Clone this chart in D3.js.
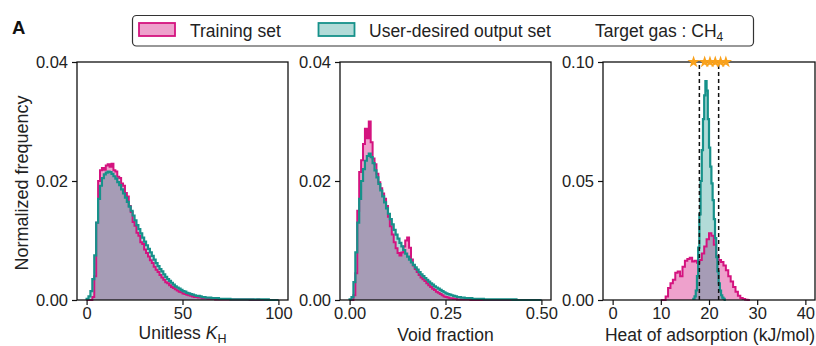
<!DOCTYPE html>
<html>
<head>
<meta charset="utf-8">
<script src="https://d3js.org/d3.v7.min.js"></script>
<style>
  body { margin: 0; background: #fff; }
  svg { font-family: "Liberation Sans", Arial, sans-serif; }
</style>
</head>
<body>
<svg id="chart" width="816" height="346"></svg>
<script>
// ---- data (normalized frequency per bin) ----
// panel 1: unitless K_H, bins of width 1 starting at 0
var khStart = 0, khWidth = 1;
var khTrain = [
  0, 0, 0, 0.0005, 0.0040, 0.0130, 0.0200, 0.0218, 0.0222, 0.0219,
  0.0226, 0.0228, 0.0224, 0.0229, 0.0218, 0.0216, 0.0207, 0.0205, 0.0196, 0.0192,
  0.0180, 0.0174, 0.0158, 0.0148, 0.0131, 0.0125, 0.0113, 0.0108, 0.0097, 0.0094,
  0.0085, 0.0079, 0.0073, 0.0067, 0.0062, 0.0056, 0.0051, 0.0047, 0.0042, 0.0038,
  0.0034, 0.0030, 0.0028, 0.0025, 0.0022, 0.0020, 0.0018, 0.0016, 0.0014, 0.0013,
  0.0011, 0.0010, 0.0009, 0.0008, 0.0007, 0.0006, 0.0005, 0.0005, 0.0004, 0.0004,
  0.0003, 0.0003, 0.0003, 0.0002, 0.0002, 0.0002, 0.0002, 0.0001, 0.0001, 0.0001,
  0.0001, 0.0001, 0.0001, 0.0001, 0.0001, 0.0001, 0.0001, 0.0001, 0.0001, 0.0001,
  0.0001, 0.0001, 0.0001, 0.0001, 0.0001, 0, 0.0001, 0, 0, 0.0001,
  0, 0, 0, 0, 0, 0, 0, 0, 0, 0
];
var khUser = [
  0.0002, 0.0006, 0.0015, 0.0035, 0.0075, 0.0130, 0.0170, 0.0192, 0.0205, 0.0211,
  0.0214, 0.0216, 0.0215, 0.0212, 0.0208, 0.0204, 0.0198, 0.0193, 0.0186, 0.0179,
  0.0172, 0.0165, 0.0157, 0.0150, 0.0142, 0.0134, 0.0126, 0.0119, 0.0112, 0.0105,
  0.0098, 0.0092, 0.0086, 0.0080, 0.0074, 0.0068, 0.0062, 0.0057, 0.0052, 0.0048,
  0.0043, 0.0039, 0.0035, 0.0032, 0.0029, 0.0026, 0.0023, 0.0021, 0.0019, 0.0017,
  0.0015, 0.0014, 0.0012, 0.0011, 0.0010, 0.0009, 0.0008, 0.0007, 0.0007, 0.0006,
  0.0005, 0.0005, 0.0004, 0.0004, 0.0004, 0.0003, 0.0003, 0.0003, 0.0003, 0.0002,
  0.0002, 0.0002, 0.0002, 0.0002, 0.0002, 0.0001, 0.0001, 0.0001, 0.0001, 0.0001,
  0.0001, 0.0001, 0.0001, 0.0001, 0.0001, 0.0001, 0.0001, 0.0001, 0.0001, 0.0001,
  0.0001, 0.0001, 0.0001, 0, 0.0001, 0, 0, 0, 0, 0
];

// panel 2: void fraction, bins of width 0.005 starting at 0
var vfStart = 0, vfWidth = 0.005;
var vfTrain = [
  0, 0, 0.0008, 0.0045, 0.0150, 0.0215, 0.0235, 0.0262, 0.0288, 0.0272,
  0.0300, 0.0265, 0.0238, 0.0228, 0.0212, 0.0198, 0.0188, 0.0179, 0.0170, 0.0158,
  0.0140, 0.0124, 0.0110, 0.0097, 0.0087, 0.0079, 0.0075, 0.0080, 0.0090, 0.0100,
  0.0105, 0.0088, 0.0068, 0.0058, 0.0052, 0.0047, 0.0042, 0.0038, 0.0035, 0.0032,
  0.0028, 0.0025, 0.0022, 0.0019, 0.0017, 0.0014, 0.0012, 0.0010, 0.0008, 0.0006,
  0.0005, 0.0004, 0.0003, 0.0003, 0.0002, 0.0002, 0.0001, 0.0001, 0.0001, 0.0001,
  0.0001, 0.0001, 0.0001, 0, 0.0001, 0, 0, 0, 0, 0,
  0, 0, 0, 0, 0, 0, 0, 0, 0, 0,
  0, 0, 0, 0, 0, 0, 0, 0, 0, 0,
  0, 0, 0, 0, 0, 0, 0, 0, 0, 0
];
var vfUser = [
  0.0001, 0.0005, 0.0030, 0.0080, 0.0130, 0.0170, 0.0200, 0.0220, 0.0234, 0.0242,
  0.0246, 0.0240, 0.0230, 0.0218, 0.0206, 0.0195, 0.0184, 0.0174, 0.0164, 0.0154,
  0.0145, 0.0136, 0.0127, 0.0118, 0.0110, 0.0103, 0.0096, 0.0090, 0.0084, 0.0078,
  0.0073, 0.0068, 0.0063, 0.0059, 0.0055, 0.0051, 0.0047, 0.0043, 0.0040, 0.0037,
  0.0034, 0.0031, 0.0028, 0.0026, 0.0023, 0.0021, 0.0019, 0.0017, 0.0015, 0.0013,
  0.0011, 0.0010, 0.0009, 0.0008, 0.0007, 0.0006, 0.0005, 0.0005, 0.0004, 0.0004,
  0.0003, 0.0003, 0.0003, 0.0003, 0.0002, 0.0002, 0.0002, 0.0002, 0.0002, 0.0002,
  0.0001, 0.0001, 0.0001, 0.0001, 0.0001, 0.0001, 0.0001, 0.0001, 0.0001, 0.0001,
  0.0001, 0.0001, 0.0001, 0.0001, 0.0001, 0, 0.0001, 0, 0, 0,
  0, 0, 0, 0, 0, 0, 0, 0, 0, 0
];

// panel 3: heat of adsorption (kJ/mol)
var hoaTrainStart = 10, hoaTrainWidth = 0.5;
var hoaTrain = [
  0, 0, 0.0015, 0.0050, 0.0070, 0.0085, 0.0115, 0.0120, 0.0100, 0.0140,
  0.0165, 0.0172, 0.0178, 0.0162, 0.0165, 0.0156, 0.0168, 0.0195, 0.0225, 0.0255,
  0.0280, 0.0270, 0.0232, 0.0185, 0.0168, 0.0160, 0.0145, 0.0125, 0.0100, 0.0078,
  0.0055, 0.0035, 0.0018, 0.0008, 0.0004, 0.0001, 0
];
var hoaUserStart = 16.75, hoaUserWidth = 0.25;
var hoaUser = [
  0.0005, 0.0015, 0.0040, 0.0100, 0.0220, 0.0360, 0.0500, 0.0630, 0.0760, 0.0860,
  0.0920, 0.0880, 0.0760, 0.0640, 0.0560, 0.0490, 0.0420, 0.0340, 0.0260, 0.0180,
  0.0120, 0.0070, 0.0040, 0.0020, 0.0010, 0.0005, 0
];
var targetRange = [18, 22];              // dashed lines
var targetStars = [16.8, 19.1, 20.2, 21.3, 22.4, 23.5];

// tick labels
var khTicks = [0, 50, 100];
var vfTicks = [0, 0.25, 0.5];
var hoaTicks = [0, 10, 20, 30, 40];
var freqTicks = [0, 0.02, 0.04];
var hoaFreqTicks = [0, 0.05, 0.10];

// ---- styles ----
var pink = "#d4137f", teal = "#16918a";
var pinkFillOp = 0.4, tealFillOp = 0.33;
var font = "'Liberation Sans', Arial, sans-serif";

var svg = d3.select("#chart");
var plotTop = 62, plotBottom = 300;

function binPoints(start, width, values) {
  var pts = [{x: start, y: 0}];
  values.forEach(function(v, i) { pts.push({x: start + i * width, y: v}); });
  pts.push({x: start + values.length * width, y: values[values.length - 1]});
  pts.push({x: start + values.length * width, y: 0});
  return pts;
}

var panels = [
  {left: 77, right: 288, xdom: [-5, 105], ydom: [0, 0.04], xt: khTicks, yt: freqTicks, xf: d3.format("d"), yf: d3.format(".2f"),
   series: [binPoints(khStart, khWidth, khTrain), binPoints(khStart, khWidth, khUser)]},
  {left: 340, right: 551, xdom: [-0.025, 0.525], ydom: [0, 0.04], xt: vfTicks, yt: freqTicks, xf: d3.format(".2f"), yf: d3.format(".2f"),
   series: [binPoints(vfStart, vfWidth, vfTrain), binPoints(vfStart, vfWidth, vfUser)]},
  {left: 603, right: 815, xdom: [-2, 42], ydom: [0, 0.10], xt: hoaTicks, yt: hoaFreqTicks, xf: d3.format("d"), yf: d3.format(".2f"),
   series: [binPoints(hoaTrainStart, hoaTrainWidth, hoaTrain), binPoints(hoaUserStart, hoaUserWidth, hoaUser)], extra: true}
];

panels.forEach(function(p) {
  var x = d3.scaleLinear().domain(p.xdom).range([p.left, p.right]);
  var y = d3.scaleLinear().domain(p.ydom).range([plotBottom, plotTop]);
  var g = svg.append("g");

  var area = d3.area().curve(d3.curveStepAfter)
      .x(function(d) { return x(d.x); }).y0(y(0)).y1(function(d) { return y(d.y); });
  var line = d3.line().curve(d3.curveStepAfter)
      .x(function(d) { return x(d.x); }).y(function(d) { return y(d.y); });

  g.append("path").attr("d", area(p.series[0])).attr("fill", pink).attr("fill-opacity", pinkFillOp);
  g.append("path").attr("d", area(p.series[1])).attr("fill", teal).attr("fill-opacity", tealFillOp);
  g.append("path").attr("d", line(p.series[0])).attr("fill", "none").attr("stroke", pink).attr("stroke-width", 2);
  g.append("path").attr("d", line(p.series[1])).attr("fill", "none").attr("stroke", teal).attr("stroke-width", 2.2);

  if (p.extra) {
    g.selectAll(".vline").data(targetRange).enter().append("line")
      .attr("x1", function(d) { return x(d); }).attr("x2", function(d) { return x(d); })
      .attr("y1", y(0)).attr("y2", y(p.ydom[1]))
      .attr("stroke", "#111").attr("stroke-width", 1.5).attr("stroke-dasharray", "4,3");
  }

  // axes
  var ax = g.append("g").attr("transform", "translate(0," + plotBottom + ")")
      .call(d3.axisBottom(x).tickValues(p.xt).tickFormat(p.xf).tickSize(5).tickPadding(2));
  var ay = g.append("g").attr("transform", "translate(" + p.left + ",0)")
      .call(d3.axisLeft(y).tickValues(p.yt).tickFormat(p.yf).tickSize(5).tickPadding(4));
  [ax, ay].forEach(function(a) {
    a.select(".domain").remove();
    a.selectAll("line").attr("stroke", "#111").attr("stroke-width", 1.2);
    a.selectAll("text").attr("font-size", 16.5).attr("font-family", font).attr("fill", "#222");
  });

  g.append("rect").attr("x", p.left).attr("y", plotTop)
    .attr("width", p.right - p.left).attr("height", plotBottom - plotTop)
    .attr("fill", "none").attr("stroke", "#111").attr("stroke-width", 1.3);

  if (p.extra) {
    g.selectAll(".star").data(targetStars).enter().append("path")
      .attr("d", d3.symbol().type(d3.symbolStar).size(48))
      .attr("transform", function(d) { return "translate(" + x(d) + "," + y(p.ydom[1]) + ")"; })
      .attr("fill", "#f9a11b");
  }
});

// axis titles
var lab = svg.append("g").attr("font-size", 17.5).attr("fill", "#222").attr("text-anchor", "middle");
var t1 = lab.append("text").attr("x", 182.5).attr("y", 339);
t1.append("tspan").text("Unitless ");
t1.append("tspan").attr("font-style", "italic").text("K");
t1.append("tspan").attr("font-size", 12.5).attr("dy", 3.5).text("H");
lab.append("text").attr("x", 445.5).attr("y", 341).text("Void fraction");
lab.append("text").attr("x", 710).attr("y", 341).text("Heat of adsorption (kJ/mol)");
lab.append("text").attr("transform", "translate(28,183) rotate(-90)").attr("font-size", 18).text("Normalized frequency");

// panel letter
svg.append("text").attr("x", 12).attr("y", 34).attr("font-size", 18.5).attr("font-weight", "bold").attr("fill", "#111").text("A");

// legend
var leg = svg.append("g").attr("font-size", 17.5).attr("fill", "#222");
leg.append("rect").attr("x", 132.5).attr("y", 15.5).attr("width", 621).attr("height", 30.5).attr("rx", 4)
  .attr("fill", "#fff").attr("stroke", "#333").attr("stroke-width", 1.2);
leg.append("rect").attr("x", 139).attr("y", 23).attr("width", 36).attr("height", 13)
  .attr("fill", pink).attr("fill-opacity", pinkFillOp).attr("stroke", pink).attr("stroke-width", 1.8);
leg.append("text").attr("x", 190).attr("y", 36.5).text("Training set");
leg.append("rect").attr("x", 318.5).attr("y", 23).attr("width", 36).attr("height", 13)
  .attr("fill", teal).attr("fill-opacity", tealFillOp).attr("stroke", teal).attr("stroke-width", 1.8);
leg.append("text").attr("x", 369).attr("y", 36.5).text("User-desired output set");
var tg = leg.append("text").attr("x", 595).attr("y", 36.5);
tg.append("tspan").text("Target gas : CH");
tg.append("tspan").attr("font-size", 12).attr("dy", 4).text("4");
</script>
</body>
</html>
